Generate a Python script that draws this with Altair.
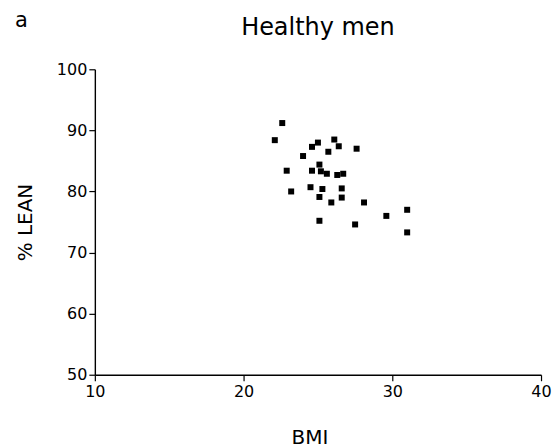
import altair as alt
import pandas as pd

# Healthy men: BMI vs % lean
bmi = [22.6, 22.1, 25.0, 24.6, 26.1, 26.4, 25.7, 24.0, 25.1, 22.9,
       24.6, 25.2, 25.6, 26.3, 26.7, 23.2, 24.5, 25.3, 25.1, 26.6,
       26.6, 25.9, 25.1, 27.6, 28.1, 31.0, 29.6, 27.5, 31.0]
lean = [91.2, 88.4, 88.0, 87.3, 88.5, 87.4, 86.5, 85.8, 84.4, 83.4,
        83.4, 83.3, 82.9, 82.7, 82.9, 80.0, 80.7, 80.4, 79.1, 80.5,
        79.0, 78.2, 75.2, 87.0, 78.2, 77.0, 76.0, 74.6, 73.3]

x_ticks = [10, 20, 30, 40]
y_ticks = [50, 60, 70, 80, 90, 100]
panel_label = ["a"]

df = pd.DataFrame({"BMI": bmi, "LEAN": lean})
lab = pd.DataFrame({"t": panel_label})

FONT = "DejaVu Sans"

points = alt.Chart(df).mark_square(size=36, color="black", opacity=1).encode(
    x=alt.X("BMI:Q",
            scale=alt.Scale(domain=[10, 40], nice=False, zero=False),
            axis=alt.Axis(values=x_ticks, title="BMI", titlePadding=28,
                          labelFlush=False, titleX=215)),
    y=alt.Y("LEAN:Q",
            scale=alt.Scale(domain=[50, 100], nice=False, zero=False),
            axis=alt.Axis(values=y_ticks, title="% LEAN", titlePadding=21)),
)

letter = alt.Chart(lab).mark_text(
    font=FONT, fontSize=21, align="left", baseline="alphabetic", color="black"
).encode(
    text="t:N",
    x=alt.value(-80),
    y=alt.value(-42),
)

chart = alt.layer(points, letter).properties(
    width=447,
    height=306,
    title=alt.Title("Healthy men", font=FONT, fontSize=24, fontWeight="normal",
                    color="black", anchor="middle", offset=-30),
    padding={"left": 7, "top": 2, "right": 0, "bottom": 0},
).configure_view(
    stroke=None
).configure_axis(
    grid=False,
    domainColor="black",
    domainWidth=1.4,
    tickColor="black",
    tickWidth=1.2,
    tickSize=6,
    labelFont=FONT,
    labelFontSize=16,
    labelColor="black",
    labelPadding=3,
    titleFont=FONT,
    titleFontSize=20,
    titleFontWeight="normal",
    titleColor="black",
).configure_axisY(
    labelPadding=2
)

chart.save("out.html", embed_options={"renderer": "svg", "actions": False})
